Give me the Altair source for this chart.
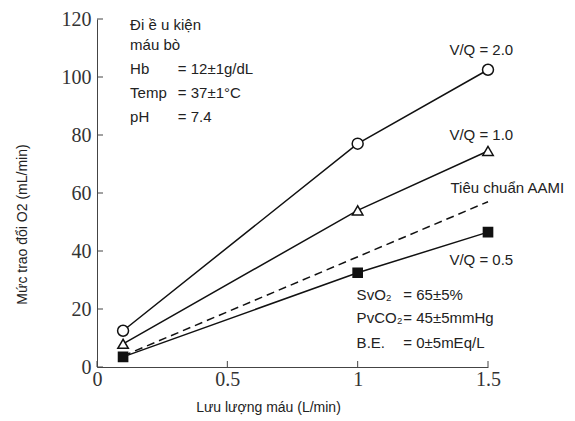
import altair as alt
import pandas as pd

flow = [0.1, 1.0, 1.5]
vq20 = [12.5, 77, 102.5]
vq10 = [8, 54, 74.5]
vq05 = [3.5, 32.5, 46.5]
aami_flow = [0.1, 1.5]
aami_vals = [3.8, 57]

x_ticks = [0, 0.5, 1, 1.5]
y_ticks = [0, 20, 40, 60, 80, 100, 120]

ann_text = ["Đi ề u kiện", "máu bò", "Hb", "= 12±1g/dL", "Temp", "= 37±1°C", "pH", "= 7.4",
            "V/Q = 2.0", "V/Q = 1.0", "Tiêu chuẩn AAMI", "V/Q = 0.5",
            "SvO₂", "= 65±5%", "PvCO₂", "= 45±5mmHg", "B.E.", "= 0±5mEq/L"]
ann_x = [0.127, 0.127, 0.127, 0.31, 0.127, 0.31, 0.127, 0.31,
         1.352, 1.352, 1.356, 1.352,
         0.996, 1.175, 0.996, 1.175, 0.996, 1.175]
ann_y = [117.9, 111, 102.8, 102.8, 94.5, 94.5, 86.2, 86.2,
         109.3, 80, 61.7, 36.9,
         24.8, 24.8, 16.9, 16.9, 8.3, 8.3]

W, H = 391, 348
FONT = "Liberation Sans"

series = pd.DataFrame({
    "flow": flow * 3,
    "val": vq20 + vq10 + vq05,
    "s": ["2.0"] * 3 + ["1.0"] * 3 + ["0.5"] * 3,
})
aami = pd.DataFrame({"flow": aami_flow, "val": aami_vals})
ann = pd.DataFrame({"t": ann_text, "x": ann_x, "y": ann_y})
xt = pd.DataFrame({"v": x_ticks})
yt = pd.DataFrame({"v": y_ticks})

xs = alt.Scale(domain=[0, 1.5], nice=False, zero=False)
ys = alt.Scale(domain=[0, 120], nice=False)

x_axis = alt.Axis(values=x_ticks, title="Lưu lượng máu (L/min)", grid=False, ticks=False,
                  labelFont="Liberation Sans Narrow", labelFontSize=20, labelColor="#333",
                  labelPadding=2, domainColor="#444", titleFont=FONT, titleFontSize=14,
                  titleFontWeight="normal", titleColor="#222", titleX=171, titleY=40,
                  titleBaseline="middle", titleAnchor="start", titleAlign="center",
                  labelExpr="datum.value == 0 ? '0' : datum.value == 1 ? '1' : format(datum.value, '.1f')",
                  labelFlush=False)
y_axis = alt.Axis(values=y_ticks, title="Mức trao đổi O2  (mL/min)", grid=False, ticks=False,
                  labelFont="Liberation Sans Narrow", labelFontSize=20, labelColor="#333",
                  labelPadding=6, domainColor="#444", titleFont=FONT, titleFontSize=14,
                  titleFontWeight="normal", titleColor="#222", titleAngle=-90,
                  titleX=-75, titleY=205, titleBaseline="middle", titleAlign="center",
                  labelFlush=False)

base_x = alt.X("flow:Q", scale=xs, axis=x_axis)
base_y = alt.Y("val:Q", scale=ys, axis=y_axis)

lines = alt.Chart(series).mark_line(color="#111", strokeWidth=1.5).encode(
    x=base_x, y=base_y, detail="s:N")
dashed = alt.Chart(aami).mark_line(color="#111", strokeWidth=1.5, strokeDash=[8, 5]).encode(
    x=alt.X("flow:Q", scale=xs), y=alt.Y("val:Q", scale=ys))

circ = alt.Chart(series).transform_filter("datum.s == '2.0'").mark_point(
    shape="circle", size=120, filled=True, fill="white", stroke="#111", strokeWidth=1.5, opacity=1
).encode(x=alt.X("flow:Q", scale=xs), y=alt.Y("val:Q", scale=ys))
tri = alt.Chart(series).transform_filter("datum.s == '1.0'").mark_point(
    shape="triangle-up", size=110, filled=True, fill="white", stroke="#111", strokeWidth=1.5, opacity=1
).encode(x=alt.X("flow:Q", scale=xs), y=alt.Y("val:Q", scale=ys))
sq = alt.Chart(series).transform_filter("datum.s == '0.5'").mark_point(
    shape="square", size=75, filled=True, fill="#111", stroke="#111", opacity=1
).encode(x=alt.X("flow:Q", scale=xs), y=alt.Y("val:Q", scale=ys))

texts = alt.Chart(ann).mark_text(align="left", baseline="middle", font=FONT, fontSize=15,
                                 color="#222").encode(
    x=alt.X("x:Q", scale=xs), y=alt.Y("y:Q", scale=ys), text="t:N")

xtick = alt.Chart(xt).mark_rule(color="#444", strokeWidth=1).encode(
    x=alt.X("v:Q", scale=xs), y=alt.value(H), y2=alt.value(H - 6))
ytick = alt.Chart(yt).mark_rule(color="#444", strokeWidth=1).encode(
    y=alt.Y("v:Q", scale=ys), x=alt.value(0), x2=alt.value(6))

chart = alt.layer(lines, dashed, circ, tri, sq, texts, xtick, ytick).properties(
    width=W, height=H,
    autosize=alt.AutoSizeParams(type="none"),
    padding={"left": 89, "top": 11, "right": 78, "bottom": 52},
    background="white",
).configure_view(stroke=None)

chart.save("out.html", embed_options={"renderer": "svg", "actions": False})
